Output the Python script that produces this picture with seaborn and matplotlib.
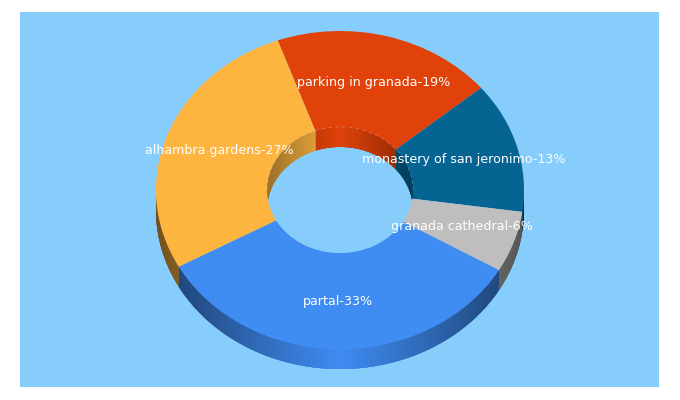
import numpy as np
import matplotlib
matplotlib.use('Agg')
import matplotlib.pyplot as plt
import seaborn as sns

categories = ['parking in granada', 'monastery of san jeronimo', 'granada cathedral', 'partal', 'alhambra gardens']
shown_pct = [19, 13, 6, 33, 27]
shares = [19.4, 13.3, 6.2, 33.6, 27.5]
slice_colors = ['#E04209', '#056492', '#BEBEBE', '#3F8CF3', '#FDB540']
bg_color = '#87CDFB'

sns.set_theme(style='white')
plt.rcParams['font.family'] = ['DejaVu Sans']

# pixel geometry of the ring
RX, RY, DEPTH, HOLE = 184.0, 159.0, 20.0, 73.0 / 184.0
depth = DEPTH / RY
start_cw = -19.8  # degrees clockwise from the top

fig = plt.figure(figsize=(6.8, 4), dpi=100, facecolor='white')
ax = fig.add_axes([20 / 680, 13 / 400, 639 / 680, 375 / 400])


def draw_wall(first, last, radius, color, strength, outer):
    # thin strips, shaded by distance from the centre; each one runs under the next to hide seams
    ramp = sns.blend_palette(['black', color], 201)
    edges = np.arange(first, last + 0.25, 0.25)
    edges[-1] = last
    for a, b in zip(edges[:-1], edges[1:]):
        mid = np.radians((a + b) / 2)
        if (np.cos(mid) < 0) != outer:
            continue
        t = np.radians(np.linspace(a, min(b + 0.75, last), 5))
        x = radius * np.sin(t)
        y = radius * np.cos(t)
        k = 1 - strength * abs(np.sin(mid))
        ax.fill(np.r_[x, x[::-1]], np.r_[y, y[::-1] - depth],
                color=ramp[int(k * 200)], lw=0, zorder=1)


bounds = start_cw + np.cumsum([0] + shares) * 3.6
for i, color in enumerate(slice_colors):
    draw_wall(bounds[i], bounds[i + 1], 1.0, color, 0.55, True)
    draw_wall(bounds[i], bounds[i + 1], HOLE, color, 0.38, False)

wedges, _, autotexts = ax.pie(shares, colors=slice_colors, startangle=90 - start_cw, counterclock=False,
                              radius=1.0, autopct='%1.0f', pctdistance=0.7,
                              wedgeprops=dict(width=1 - HOLE, linewidth=0, zorder=2),
                              textprops=dict(color='white', fontsize=9.05, zorder=5))
for text, name, pct in zip(autotexts, categories, shown_pct):
    text.set_text(f'{name}-{pct}%')

# faint line round the far side of the hole
t = np.radians(np.linspace(-90, 90, 120))
ax.plot(HOLE * np.sin(t), HOLE * np.cos(t), color='white', alpha=0.2, lw=0.7, ls=(0, (4, 3)), zorder=3)

ax.set_aspect('auto')
ax.set_xlim((20 - 340) / RX, (659 - 340) / RX)
ax.set_ylim((190 - 387) / RY, (190 - 12) / RY)
ax.set_facecolor(bg_color)
ax.set_frame_on(True)
sns.despine(ax=ax, left=True, bottom=True)
ax.set_xticks([])
ax.set_yticks([])

fig.savefig('out.png', dpi=100)
